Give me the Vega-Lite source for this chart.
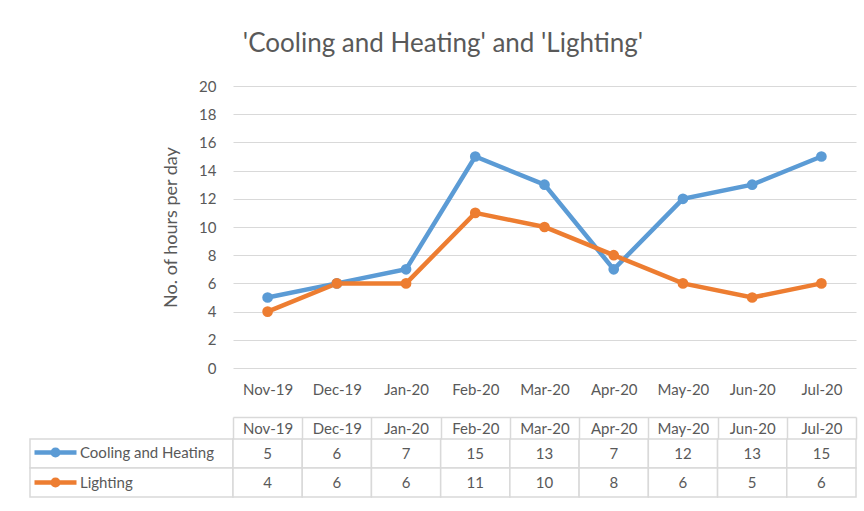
{
  "$schema": "https://vega.github.io/schema/vega-lite/v6.json",
  "padding": {"left": 29, "top": 31, "right": 9, "bottom": 13},
  "background": "white",
  "title": {"text": "'Cooling and Heating' and 'Lighting'", "fontSize": 26, "font": "Lato", "fontWeight": "normal", "color": "#595959", "anchor": "middle", "offset": 22},
  "datasets": {
    "hours": [
      {"month": "Nov-19", "series": "Cooling and Heating", "value": 5},
      {"month": "Dec-19", "series": "Cooling and Heating", "value": 6},
      {"month": "Jan-20", "series": "Cooling and Heating", "value": 7},
      {"month": "Feb-20", "series": "Cooling and Heating", "value": 15},
      {"month": "Mar-20", "series": "Cooling and Heating", "value": 13},
      {"month": "Apr-20", "series": "Cooling and Heating", "value": 7},
      {"month": "May-20", "series": "Cooling and Heating", "value": 12},
      {"month": "Jun-20", "series": "Cooling and Heating", "value": 13},
      {"month": "Jul-20", "series": "Cooling and Heating", "value": 15},
      {"month": "Nov-19", "series": "Lighting", "value": 4},
      {"month": "Dec-19", "series": "Lighting", "value": 6},
      {"month": "Jan-20", "series": "Lighting", "value": 6},
      {"month": "Feb-20", "series": "Lighting", "value": 11},
      {"month": "Mar-20", "series": "Lighting", "value": 10},
      {"month": "Apr-20", "series": "Lighting", "value": 8},
      {"month": "May-20", "series": "Lighting", "value": 6},
      {"month": "Jun-20", "series": "Lighting", "value": 5},
      {"month": "Jul-20", "series": "Lighting", "value": 6}
    ]
  },
  "data": {"name": "hours"},
  "columns": 2,
  "bounds": "flush",
  "spacing": {"row": 71, "column": 0},
  "concat": [
    {
      "width": 203,
      "height": 282,
      "mark": {"type": "point", "opacity": 0},
      "encoding": {}
    },
    {
      "width": 623,
      "height": 282,
      "mark": {"type": "line", "strokeWidth": 4.5, "point": {"filled": true, "size": 115, "opacity": 1}},
      "encoding": {
        "x": {
          "field": "month", "type": "ordinal",
          "sort": ["Nov-19","Dec-19","Jan-20","Feb-20","Mar-20","Apr-20","May-20","Jun-20","Jul-20"],
          "scale": {"type": "point", "padding": 0.5},
          "axis": {"title": null, "labelAngle": 0, "domain": false, "ticks": false, "grid": false, "labelPadding": 14, "labelFontSize": 15, "labelColor": "#595959", "labelFont": "Lato"}
        },
        "y": {
          "field": "value", "type": "quantitative",
          "scale": {"domain": [0, 20], "nice": false},
          "axis": {"title": "No. of hours per day", "values": [0,2,4,6,8,10,12,14,16,18,20], "domain": false, "ticks": false, "grid": true, "gridColor": "#d9d9d9", "gridWidth": 1.2, "labelPadding": 17, "labelFontSize": 15, "labelColor": "#595959", "labelFont": "Lato", "titlePadding": 18, "titleFontSize": 18, "titleFontWeight": "normal", "titleColor": "#595959", "titleFont": "Lato"}
        },
        "color": {
          "field": "series", "type": "nominal",
          "scale": {"domain": ["Cooling and Heating", "Lighting"], "range": ["#5B9BD5", "#ED7D31"]},
          "legend": {
            "title": null, "orient": "none", "legendX": 16, "legendY": 357, "padding": 0,
            "symbolType": "M-3,0L3,0M0.4,0A0.4,0.4,0,1,1,-0.4,0A0.4,0.4,0,1,1,0.4,0Z",
            "symbolSize": 196, "symbolStrokeWidth": 4.5, "symbolOpacity": 1,
            "labelFontSize": 15, "labelColor": "#595959", "labelFont": "Lato", "labelOffset": 15, "rowPadding": 5,
            "encode": {"symbols": {"update": {"fill": {"scale": "color", "field": "value"}, "stroke": {"scale": "color", "field": "value"}, "strokeWidth": {"value": 4.5}}}}
          }
        }
      }
    },
    {
      "width": 203,
      "height": 58,
      "transform": [{"filter": "datum.month == 'Nov-19'"}],
      "mark": {"type": "rect", "fill": "white", "stroke": "#d9d9d9", "strokeWidth": 1.5},
      "encoding": {
        "y": {"field": "series", "type": "nominal", "scale": {"domain": ["Cooling and Heating", "Lighting"], "paddingInner": 0, "paddingOuter": 0}, "axis": null}
      }
    },
    {
      "width": 623,
      "height": 58,
      "layer": [
        {
          "mark": {"type": "rect", "fill": "white", "stroke": "#d9d9d9", "strokeWidth": 1.5},
          "encoding": {
            "x": {
              "field": "month", "type": "ordinal",
              "sort": ["Nov-19","Dec-19","Jan-20","Feb-20","Mar-20","Apr-20","May-20","Jun-20","Jul-20"],
              "scale": {"type": "band", "paddingInner": 0, "paddingOuter": 0},
              "axis": {"orient": "top", "title": null, "labelAngle": 0, "domain": false, "grid": false, "ticks": true, "tickBand": "extent", "tickSize": 22, "tickColor": "#d9d9d9", "tickWidth": 1.5, "labelPadding": -11, "labelBaseline": "middle", "labelFontSize": 15, "labelColor": "#595959", "labelFont": "Lato"}
            },
            "y": {"field": "series", "type": "nominal", "scale": {"domain": ["Cooling and Heating", "Lighting"], "paddingInner": 0, "paddingOuter": 0}, "axis": null}
          }
        },
        {
          "mark": {"type": "text", "fontSize": 15, "font": "Lato", "color": "#595959"},
          "encoding": {
            "x": {"field": "month", "type": "ordinal", "sort": ["Nov-19","Dec-19","Jan-20","Feb-20","Mar-20","Apr-20","May-20","Jun-20","Jul-20"], "axis": null},
            "y": {"field": "series", "type": "nominal", "axis": null},
            "text": {"field": "value", "type": "quantitative"}
          }
        },
        {
          "transform": [{"filter": "datum.series == 'Lighting'"}],
          "mark": {"type": "text", "opacity": 0, "text": ""},
          "encoding": {
            "x": {
              "field": "month", "type": "ordinal",
              "sort": ["Nov-19","Dec-19","Jan-20","Feb-20","Mar-20","Apr-20","May-20","Jun-20","Jul-20"],
              "axis": {"orient": "top", "offset": 22, "title": null, "domain": true, "domainColor": "#d9d9d9", "domainWidth": 1.5, "labels": false, "ticks": false, "grid": false}
            }
          }
        }
      ],
      "resolve": {"axis": {"x": "independent"}}
    }
  ],
  "resolve": {"scale": {"x": "independent", "y": "independent"}},
  "config": {"view": {"stroke": null}, "font": "Lato"}
}
